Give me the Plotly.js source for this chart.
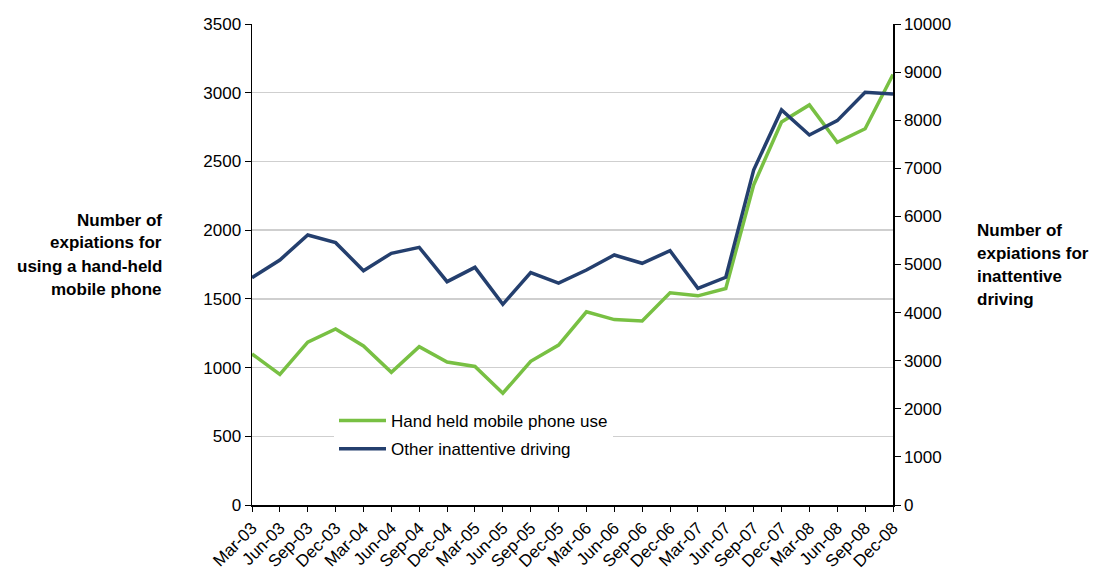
<!DOCTYPE html>
<html>
<head>
<meta charset="utf-8">
<script src="https://cdn.plot.ly/plotly-3.0.1.min.js"></script>
<style>html,body{margin:0;padding:0;background:#fff;}#chart{width:1096px;height:572px;}</style>
</head>
<body>
<div id="chart"></div>
<script>
var quarters = ["Mar-03","Jun-03","Sep-03","Dec-03","Mar-04","Jun-04","Sep-04","Dec-04","Mar-05","Jun-05","Sep-05","Dec-05","Mar-06","Jun-06","Sep-06","Dec-06","Mar-07","Jun-07","Sep-07","Dec-07","Mar-08","Jun-08","Sep-08","Dec-08"];
var mobilePhone = [1099, 950, 1185, 1281, 1157, 966, 1152, 1040, 1008, 813, 1046, 1164, 1406, 1349, 1339, 1544, 1522, 1575, 2329, 2787, 2911, 2639, 2738, 3133];
var otherInattentive = [4726, 5094, 5613, 5454, 4872, 5232, 5357, 4643, 4941, 4172, 4830, 4615, 4886, 5198, 5025, 5287, 4505, 4734, 6965, 8212, 7692, 7990, 8580, 8545];
var seriesNames = ["Hand held mobile phone use", "Other inattentive driving"];
var leftTitleLines = ["Number of", "expiations for", "using a hand-held", "mobile phone"];
var rightTitleLines = ["Number of", "expiations for", "inattentive", "driving"];

var FONT = "Liberation Sans, Arial, sans-serif";
var traces = [
  {x: quarters, y: mobilePhone, name: seriesNames[0], type: "scatter", mode: "lines", legendgroup: "a",
   line: {color: "#78C043", width: 3.5}, yaxis: "y"},
  {x: quarters, y: otherInattentive, name: seriesNames[1], type: "scatter", mode: "lines", legendgroup: "b",
   line: {color: "#243F6E", width: 3.5}, yaxis: "y2"}
];

var annotations = [];
leftTitleLines.forEach(function(t, i){
  annotations.push({text: "<b>" + t + "</b>", xref: "paper", yref: "paper",
    x: (164 - 252) / 641, y: (505 - (220 + i * 23)) / 481, xanchor: "right", yanchor: "middle",
    showarrow: false, align: "right", font: {family: FONT, size: 17, color: "#000"}});
});
rightTitleLines.forEach(function(t, i){
  annotations.push({text: "<b>" + t + "</b>", xref: "paper", yref: "paper",
    x: (975 - 252) / 641, y: (505 - (230 + i * 23.3)) / 481, xanchor: "left", yanchor: "middle",
    showarrow: false, align: "left", font: {family: FONT, size: 17, color: "#000"}});
});

var layout = {
  width: 1096, height: 572,
  margin: {l: 252, r: 203, t: 24, b: 67, pad: 0},
  paper_bgcolor: "#fff", plot_bgcolor: "#fff",
  font: {family: FONT, size: 17, color: "#000"},
  showlegend: true,
  legend: {x: (334 - 252) / 641, y: (505 - 403) / 481, xanchor: "left", yanchor: "top",
    bgcolor: "#fff", borderwidth: 0, font: {family: FONT, size: 17, color: "#000"},
    tracegroupgap: 3, itemwidth: 47},
  xaxis: {type: "category", range: [0, quarters.length - 1], tickangle: -45,
    showline: true, linecolor: "#000", linewidth: 1.5, ticks: "outside", ticklen: 5, tickcolor: "#000",
    showgrid: false, zeroline: false, tickfont: {family: FONT, size: 17, color: "#000"}},
  yaxis: {range: [0, 3500], dtick: 500, tick0: 0, showline: true, linecolor: "#000", linewidth: 1.5,
    ticks: "outside", ticklen: 6, tickcolor: "#000", showgrid: true, gridcolor: "#cfcfcf", gridwidth: 1.5,
    zeroline: false, tickformat: "d", tickfont: {family: FONT, size: 17, color: "#000"}},
  yaxis2: {range: [0, 10000], dtick: 1000, tick0: 0, overlaying: "y", side: "right", anchor: "x",
    showline: true, linecolor: "#000", linewidth: 1.5, ticks: "outside", ticklen: 6, tickcolor: "#000",
    showgrid: false, zeroline: false, tickformat: "d", tickfont: {family: FONT, size: 17, color: "#000"}},
  annotations: annotations
};

Plotly.newPlot("chart", traces, layout, {displayModeBar: false, staticPlot: true});
</script>
</body>
</html>
